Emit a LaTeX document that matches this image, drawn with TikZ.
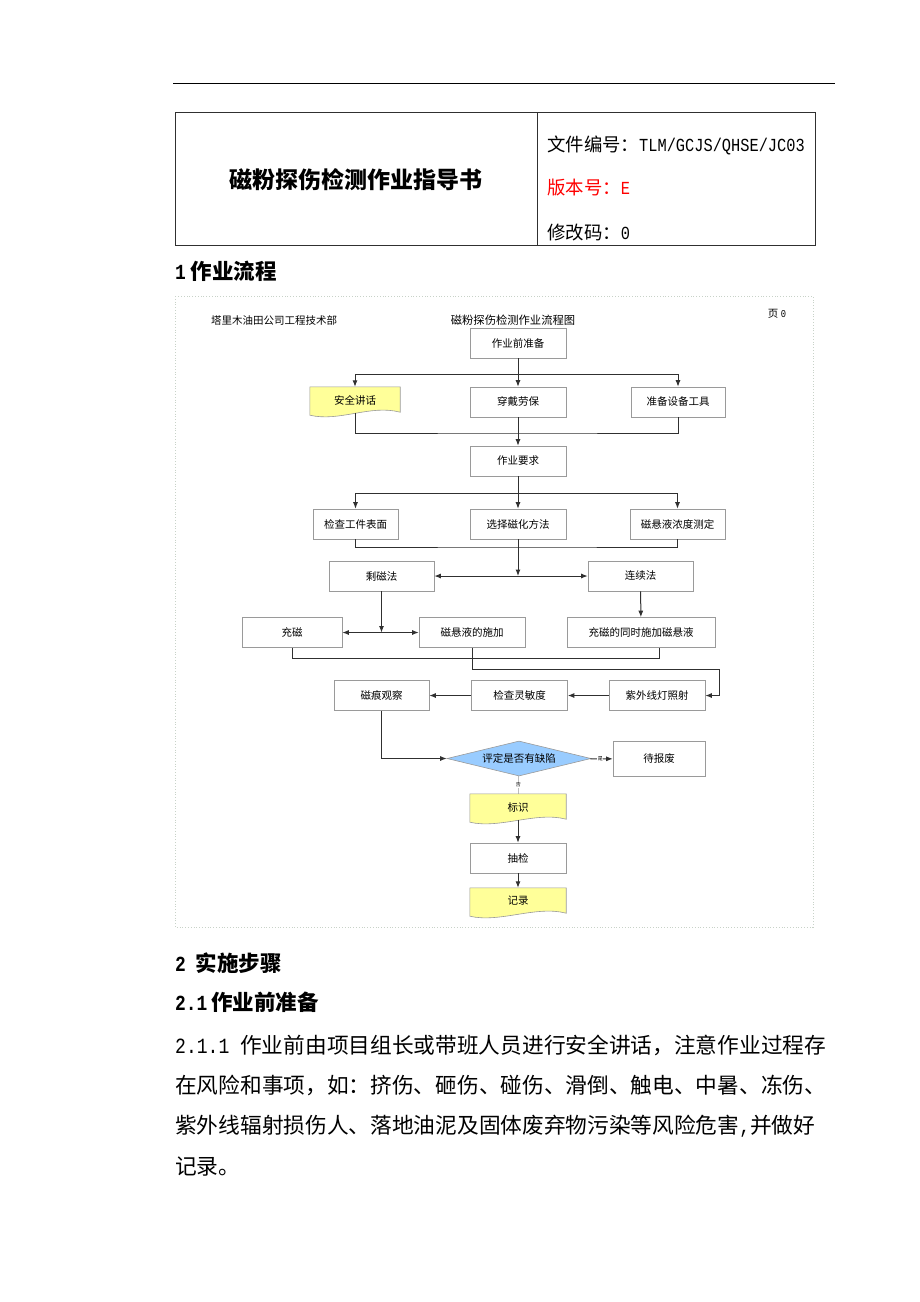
\documentclass[tikz,border=0pt]{standalone}
\usepackage{fontspec}
\setmainfont{Noto Sans CJK SC}
\newfontfamily\hw[FakeStretch=0.833]{Liberation Mono}
\usetikzlibrary{arrows.meta,shapes.geometric,positioning,calc,backgrounds}
\definecolor{boxColor}{HTML}{9A9A9A}
\definecolor{lineColor}{HTML}{303030}
\definecolor{docColor}{HTML}{FFFF99}
\definecolor{judgeColor}{HTML}{99CCFF}
\definecolor{frameColor}{HTML}{C8D2C8}
\newcommand{\flowfont}{\fontsize{10.5}{12}\selectfont}
\newcommand{\headfont}{\fontsize{21.5}{24}\selectfont\bfseries}
\newcommand{\bodyfont}{\fontsize{21.7}{24}\selectfont}
\tikzset{
	stepbox/.style={draw=boxColor, fill=white, line width=0.6pt, inner sep=0pt,
		minimum width=96pt, minimum height=30pt, font=\flowfont},
	docbox/.style={inner sep=0pt, minimum width=96pt, minimum height=26pt, font=\flowfont},
	link/.style={draw=lineColor, line width=1pt},
	go/.style={link, -{Latex[length=6.5pt,width=5pt]}},
	gogo/.style={link, {Latex[length=6.5pt,width=5pt]}-{Latex[length=6.5pt,width=5pt]}},
	judge/.style={diamond, aspect=4, draw=boxColor, fill=judgeColor, line width=0.6pt, inner sep=0pt,
		minimum width=144pt, minimum height=35pt, font=\flowfont},
	textline/.style={anchor=west, inner sep=0pt}
}
% yellow "document" shape behind a docbox node
\newcommand{\docshape}[1]{%
	\begin{scope}[on background layer]
		\filldraw[draw=boxColor, fill=docColor, line width=0.6pt]
		(#1.north west) -- (#1.north east) -- ($(#1.south east)+(0,-1)$)
		.. controls ($(#1.south east)+(-30,-9)$) and ($(#1.south west)+(30,9)$) .. ($(#1.south west)+(0,2)$) -- cycle;
	\end{scope}}

\begin{document}
\begin{tikzpicture}[x=1pt, y=-1pt]
	\useasboundingbox (0,0) rectangle (920,1302);
	% page head
	\draw[line width=1pt] (173,83) -- (835,83);
	\draw[lineColor, line width=0.9pt] (175,112) rectangle (815,245);
	\draw[lineColor, line width=0.9pt] (537,112) -- (537,245);
	\node[font=\fontsize{23}{26}\selectfont\bfseries] (title) at (356,180) {磁粉探伤检测作业指导书};
	\node[textline, font=\fontsize{18.4}{20}\selectfont] (docno) at (547,145) {文件编号：{\hw TLM/GCJS/QHSE/JC03}};
	\node[textline, font=\fontsize{18.4}{20}\selectfont, red] (version) at (547,188) {版本号：{\hw E}};
	\node[textline, font=\fontsize{18.4}{20}\selectfont] (revision) at (547,233) {修改码：{\hw 0}};
	\node[textline, font=\headfont] (sec1) at (175,271) {{\hw 1}\hspace{5pt}作业流程};

	% flow chart
	\draw[dotted, frameColor, line width=0.8pt] (175,296) rectangle (813,927);
	\node[font=\flowfont] (dept) at (274,320) {塔里木油田公司工程技术部};
	\node[font=\fontsize{11.3}{13}\selectfont] (chart) at (513,320) {磁粉探伤检测作业流程图};
	\node[font=\flowfont] (page) at (777,314) {页 {\hw 0}};

	\node[stepbox] (prep) at (518,343) {作业前准备};
	\node[docbox, minimum width=90pt] (talk) at (355,400) {安全讲话};
	\node[stepbox] (wear) at (518,402) {穿戴劳保};
	\node[stepbox, minimum width=94pt] (tools) at (678,402) {准备设备工具};
	\node[stepbox] (req) at (518,461) {作业要求};
	\node[stepbox, minimum width=85pt] (surface) at (355.5,524) {检查工件表面};
	\node[stepbox] (method) at (518,524) {选择磁化方法};
	\node[stepbox, minimum width=95pt] (conc) at (677.5,524) {磁悬液浓度测定};
	\node[stepbox, minimum width=105pt] (resid) at (381.5,576) {剩磁法};
	\node[stepbox, minimum width=105pt] (cont) at (640.5,576) {连续法};
	\node[stepbox, minimum width=100pt] (charge) at (292,632.5) {充磁};
	\node[stepbox, minimum width=106pt] (apply) at (472,632.5) {磁悬液的施加};
	\node[stepbox, minimum width=148pt] (cosim) at (641,632.5) {充磁的同时施加磁悬液};
	\node[stepbox] (uv) at (657,695.5) {紫外线灯照射};
	\node[stepbox] (sens) at (519.5,695.5) {检查灵敏度};
	\node[stepbox, minimum width=95pt] (observe) at (381.5,695.5) {磁痕观察};
	\node[judge] (eval) at (519,758.5) {评定是否有缺陷};
	\node[stepbox, minimum width=92pt, minimum height=35pt] (scrap) at (659,759) {待报废};
	\node[docbox] (mark) at (518,807) {标识};
	\node[stepbox] (check) at (518,858) {抽检};
	\node[docbox] (record) at (518,901) {记录};
	\docshape{talk}
	\docshape{mark}
	\docshape{record}

	\coordinate (b1) at (518,374);
	\coordinate (m1) at (518,433);
	\coordinate (b2) at (518,493);
	\coordinate (m2) at (518,547);
	\coordinate (j1) at (518,576);
	\coordinate (j2) at (381.5,632.5);
	\coordinate (m3) at (659,658);
	\coordinate (m4) at (719,669);

	\draw[go] (prep) -- (wear);
	\draw[go] (b1) -| (talk);
	\draw[go] (b1) -| (tools);
	\draw[link] (talk) |- (m1) -| (tools);
	\draw[go] (wear) -- (req);
	\draw[go] (req) -- (method);
	\draw[go] (b2) -| (surface);
	\draw[go] (b2) -| (conc);
	\draw[link] (surface) |- (m2) -| (conc);
	\draw[go] (method) -- (j1);
	\draw[gogo] (resid) -- (cont);
	\draw[go] (cont) -- (cosim);
	\draw[go] (resid) -- (j2);
	\draw[gogo] (charge) -- (apply);
	\draw[link] (charge) |- (m3) -- (m3 |- cosim.south);
	\draw[go] (apply) |- (m4) |- (uv);
	\draw[go] (uv) -- (sens);
	\draw[go] (sens) -- (observe);
	\draw[go] (observe) |- (eval);
	\draw[go] (eval) -- node[pos=0.45, font=\fontsize{5}{6}\selectfont, fill=white, inner sep=0.5pt] {是} (scrap);
	\draw[link, line width=0.5pt, boxColor] (eval) -- node[font=\fontsize{5}{6}\selectfont, fill=white, inner sep=0.5pt, text=black] {否} (mark);
	\draw[go] (mark) -- (check);
	\draw[go] (check) -- (record);

	% text below
	\node[textline, font=\headfont] (sec2) at (175,963) {{\hw 2}\hspace{10pt}实施步骤};
	\node[textline, font=\headfont] (sec21) at (175,1002) {{\hw 2.1}\hspace{4pt}作业前准备};
	\node[textline, font=\bodyfont] (line1) at (175,1045) {{\hw 2.1.1 }作业前由项目组长或带班人员进行安全讲话，注意作业过程存};
	\node[textline, font=\bodyfont] (line2) at (175,1085) {在风险和事项，如：挤伤、砸伤、碰伤、滑倒、触电、中暑、冻伤、};
	\node[textline, font=\bodyfont] (line3) at (175,1126) {紫外线辐射损伤人、落地油泥及固体废弃物污染等风险危害{\hw ,}并做好};
	\node[textline, font=\bodyfont] (line4) at (175,1167) {记录。};
\end{tikzpicture}
\end{document}
